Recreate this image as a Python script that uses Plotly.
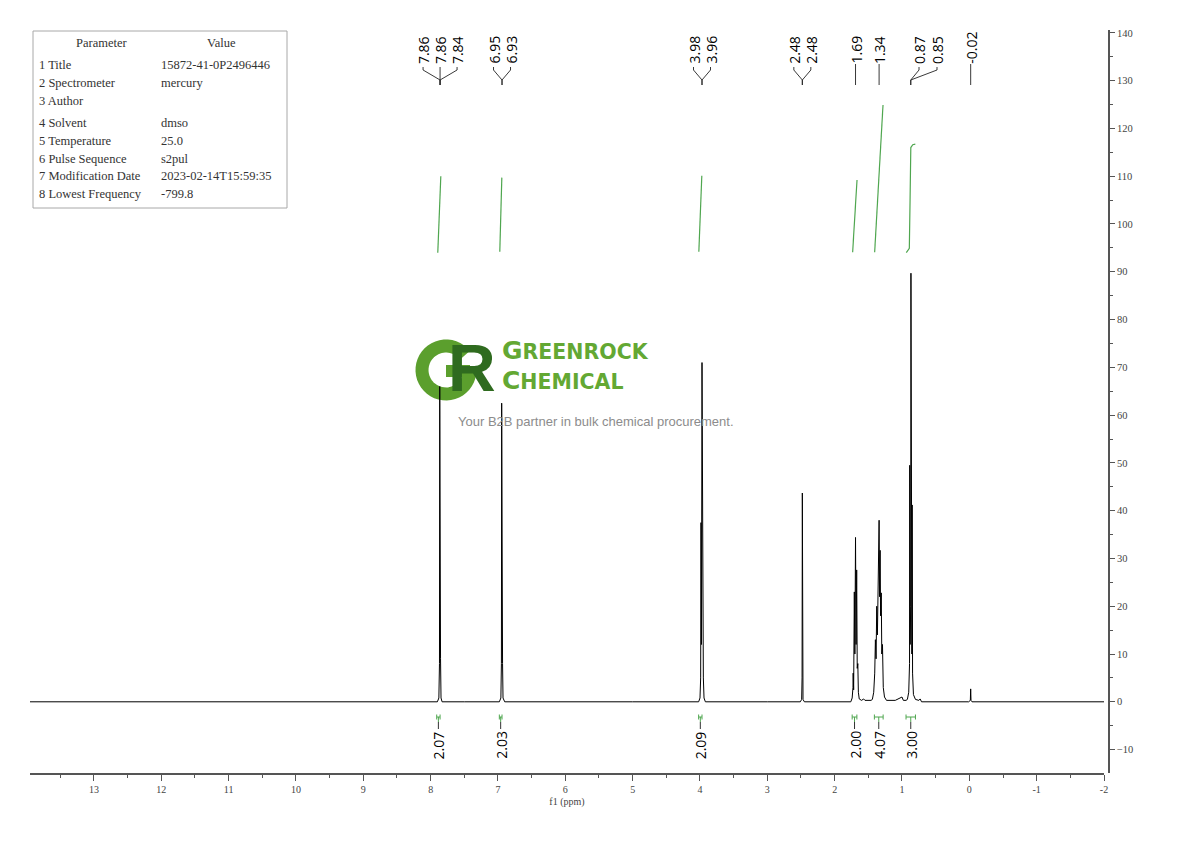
import math
import plotly.graph_objects as go

# ---------------- data ----------------
# 1H NMR spectrum vertices (ppm, intensity)
spec_ppm = [13.95, 8.30, 7.90, 7.878, 7.869, 7.865, 7.861, 7.858, 7.853, 7.846, 7.83, 7.50,
            6.98, 6.957, 6.949, 6.945, 6.941, 6.937, 6.932, 6.925, 6.90, 5.00,
            4.02, 4.000, 3.990, 3.985, 3.978, 3.970, 3.962, 3.955, 3.950, 3.940, 3.92, 3.00,
            2.51, 2.490, 2.484, 2.480, 2.476, 2.470, 2.45, 1.90,
            1.76, 1.740, 1.728, 1.725, 1.718, 1.708, 1.700, 1.690, 1.682, 1.673, 1.665, 1.656, 1.648, 1.635, 1.60,
            1.57, 1.55, 1.46,
            1.44, 1.420, 1.405, 1.395, 1.385, 1.375, 1.365, 1.355, 1.348, 1.340, 1.333, 1.325, 1.318, 1.308, 1.300,
            1.290, 1.278, 1.260, 1.23, 1.10, 1.00, 0.98, 0.94,
            0.92, 0.900, 0.888, 0.885, 0.879, 0.871, 0.867, 0.863, 0.853, 0.849, 0.843, 0.830, 0.80, 0.75, 0.73,
            0.71, 0.30, 0.01, -0.015, -0.020, -0.025, -0.04, -2.10]
spec_int = [0.0, 0.0, 0.0, 0.8, 8.0, 66.0, 20.0, 61.0, 9.0, 0.8, 0.0, 0.0,
            0.0, 0.8, 8.0, 62.5, 20.0, 60.0, 8.0, 0.8, 0.0, 0.0,
            0.0, 0.8, 5.0, 37.5, 12.0, 71.0, 12.0, 35.5, 5.0, 0.8, 0.0, 0.0,
            0.0, 0.5, 5.0, 43.7, 5.0, 0.5, 0.0, 0.0,
            0.0, 0.8, 3.0, 6.0, 2.5, 23.0, 10.0, 34.4, 12.0, 27.6, 7.0, 8.0, 2.0, 0.6, 0.3,
            0.6, 0.3, 0.3,
            0.5, 2.0, 6.0, 13.0, 9.0, 20.0, 14.0, 30.0, 26.0, 38.0, 22.0, 31.7, 18.0, 22.8, 10.0,
            12.0, 3.0, 1.0, 0.3, 0.3, 1.0, 0.3, 0.3,
            0.5, 2.0, 8.0, 49.5, 12.0, 20.0, 89.7, 20.0, 10.0, 41.2, 6.0, 1.5, 0.5, 0.3, 0.6,
            0.0, 0.0, 0.0, 0.3, 2.7, 0.3, 0.0, 0.0]

# integration regions and values
integral_from = [7.91, 6.98, 4.02, 1.74, 1.41, 0.94]
integral_to = [7.86, 6.94, 3.97, 1.67, 1.28, 0.80]
integral_values = ["2.07", "2.03", "2.09", "2.00", "4.07", "3.00"]

# integral curves (ppm, curve height on the intensity scale)
int1_ppm = [7.894, 7.872, 7.849]; int1_val = [94.0, 102.0, 110.0]
int2_ppm = [6.973, 6.958, 6.943]; int2_val = [94.2, 102.0, 109.7]
int3_ppm = [4.017, 3.995, 3.973]; int3_val = [94.2, 102.0, 110.1]
int4_ppm = [1.733, 1.700, 1.668]; int4_val = [94.1, 101.5, 109.2]
int5_ppm = [1.406, 1.370, 1.330, 1.295, 1.282]; int5_val = [94.1, 103.0, 114.0, 123.0, 124.9]
int6_ppm = [0.936, 0.891, 0.880, 0.869, 0.840, 0.802]; int6_val = [94.0, 94.9, 105.0, 116.0, 116.6, 116.7]

# peak labels: peak position and the labels of each group
peak_group_ppm = [7.86, 6.94, 3.97, 2.48, 1.69, 1.34, 0.87, -0.02]
peak_group_labels = [["7.86", "7.86", "7.84"], ["6.95", "6.93"], ["3.98", "3.96"], ["2.48", "2.48"],
                     ["1.69"], ["1.34"], ["0.87", "0.85"], ["-0.02"]]

# parameter table
param_names = ["1 Title", "2 Spectrometer", "3 Author", "4 Solvent", "5 Temperature",
               "6 Pulse Sequence", "7 Modification Date", "8 Lowest Frequency"]
param_values = ["15872-41-0P2496446", "mercury", "", "dmso", "25.0", "s2pul",
                "2023-02-14T15:59:35", "-799.8"]

x_ticks = [13, 12, 11, 10, 9, 8, 7, 6, 5, 4, 3, 2, 1, 0, -1, -2]
x_tick_text = ["13", "12", "11", "10", "9", "8", "7", "6", "5", "4", "3", "2", "1", "0", "-1", "-2"]

# ---------------- layout helpers (all pixel numbers are screen pixels) ----------------
W, H = 1190, 841
PAGE_OFF = 8                       # default body margin of the html page
PL, PR, PT, PB = 30, 1109, 30, 773  # plot area on screen
ML, MT = PL - PAGE_OFF, PT - PAGE_OFF
MR, MB = W - (PR - PAGE_OFF), H - (PB - PAGE_OFF)
X_LEFT, X_RIGHT = 13.95, -2.0      # x range; -2 sits at pixel 1104
XPX1 = 1104
Y_BOT, Y_TOP = -14.9, 140.6


def px_to_ppm(px):
    return X_LEFT - (px - PL) * (X_LEFT - X_RIGHT) / (XPX1 - PL)


def ppm_to_px(p):
    return PL + (X_LEFT - p) * (XPX1 - PL) / (X_LEFT - X_RIGHT)


def py_to_val(py):
    return Y_TOP - (py - PT) * (Y_TOP - Y_BOT) / (PB - PT)


def paper_x(px):
    return (px - PL) / (PR - PL)


def paper_y(py):
    return (PB - py) / (PB - PT)


fig = go.Figure()

fig.add_trace(go.Scatter(x=spec_ppm, y=spec_int, mode="lines",
                         line=dict(color="black", width=1), hoverinfo="skip", showlegend=False))

GREEN = "#4fa64f"
for xs, ys in [(int1_ppm, int1_val), (int2_ppm, int2_val), (int3_ppm, int3_val),
               (int4_ppm, int4_val), (int5_ppm, int5_val), (int6_ppm, int6_val)]:
    fig.add_trace(go.Scatter(x=xs, y=ys, mode="lines", line=dict(color=GREEN, width=1.2),
                             hoverinfo="skip", showlegend=False))

shapes = []
annotations = []
LFONT = dict(family="Open Sans", size=14, color="black")

# integral brackets and values
y_bar = py_to_val(717)
y_tick_hi = py_to_val(714.5)
y_tick_lo = py_to_val(719.5)
y_stem = py_to_val(729)
for a, b, v in zip(integral_from, integral_to, integral_values):
    mid = (a + b) / 2
    line = dict(color=GREEN, width=1)
    shapes.append(dict(type="line", xref="x", yref="y", x0=a, x1=b, y0=y_bar, y1=y_bar, line=line))
    shapes.append(dict(type="line", xref="x", yref="y", x0=a, x1=a, y0=y_tick_hi, y1=y_tick_lo, line=line))
    shapes.append(dict(type="line", xref="x", yref="y", x0=b, x1=b, y0=y_tick_hi, y1=y_tick_lo, line=line))
    shapes.append(dict(type="line", xref="x", yref="y", x0=mid, x1=mid, y0=y_bar, y1=py_to_val(722),
                       line=dict(color=GREEN, width=1)))
    shapes.append(dict(type="line", xref="x", yref="y", x0=mid, x1=mid, y0=py_to_val(722), y1=y_stem,
                       line=dict(color="#333", width=1)))
    annotations.append(dict(x=mid, y=y_stem, xref="x", yref="y", text=v, textangle=-90,
                            showarrow=False, xanchor="center", yanchor="top", font=LFONT))

# peak labels with connectors
LABEL_SPACING_PX = 17
label_px_override = {6: [919, 937]}
y_a, y_b, y_c, y_d = py_to_val(67), py_to_val(70), py_to_val(80), py_to_val(85)
y_lab = py_to_val(66)
for gi, (pk, labels) in enumerate(zip(peak_group_ppm, peak_group_labels)):
    pk_px = ppm_to_px(pk)
    n = len(labels)
    if gi in label_px_override:
        lab_px = label_px_override[gi]
    else:
        lab_px = [pk_px + (i - (n - 1) / 2) * LABEL_SPACING_PX for i in range(n)]
    for lp, t in zip(lab_px, labels):
        lx = px_to_ppm(lp)
        annotations.append(dict(x=lx, y=y_lab, xref="x", yref="y", text=t, textangle=-90,
                                showarrow=False, xanchor="center", yanchor="bottom", font=LFONT))
        if n == 1:
            path = f"M {lx},{py_to_val(64)} L {lx},{y_d}"
        else:
            path = f"M {lx},{y_a} L {lx},{y_b} L {pk},{y_c} L {pk},{y_d}"
        shapes.append(dict(type="path", xref="x", yref="y", path=path,
                           line=dict(color="#222", width=0.9)))

# parameter table
shapes.append(dict(type="rect", xref="paper", yref="paper", x0=paper_x(33), x1=paper_x(287),
                   y0=paper_y(208), y1=paper_y(31), line=dict(color="#a8a8a8", width=1),
                   fillcolor="white", layer="below"))
TFONT = dict(family="Liberation Serif", size=12.5, color="#333")
annotations.append(dict(x=paper_x(102), y=paper_y(43), xref="paper", yref="paper", text="Parameter",
                        showarrow=False, xanchor="center", yanchor="middle", font=TFONT))
annotations.append(dict(x=paper_x(221), y=paper_y(43), xref="paper", yref="paper", text="Value",
                        showarrow=False, xanchor="center", yanchor="middle", font=TFONT))
row_py = [65, 83, 101, 123, 141, 159, 176, 194]
for py, nm, val in zip(row_py, param_names, param_values):
    annotations.append(dict(x=paper_x(37), y=paper_y(py), xref="paper", yref="paper", text=nm,
                            showarrow=False, xanchor="left", yanchor="middle", font=TFONT))
    if val:
        annotations.append(dict(x=paper_x(159), y=paper_y(py), xref="paper", yref="paper", text=val,
                                showarrow=False, xanchor="left", yanchor="middle", font=TFONT))

# watermark logo: ring-shaped "G" drawn as a thick arc with a bar, "R" as text
G_COL, R_COL, T_COL = "#5b9f2d", "#2f6b1f", "#63a833"
gcx, gcy, gr = 446, 370, 24
arc = []
for k in range(0, 41):
    ang = math.radians(38 + k * (360 - 38) / 40)
    arc.append((gcx + gr * math.cos(ang), gcy - gr * math.sin(ang)))
g_path = "M " + " L ".join(f"{paper_x(px):.5f},{paper_y(py):.5f}" for px, py in arc)
shapes.append(dict(type="path", xref="paper", yref="paper", path=g_path,
                   line=dict(color=G_COL, width=13), layer="below"))
shapes.append(dict(type="rect", xref="paper", yref="paper", x0=paper_x(446), x1=paper_x(470),
                   y0=paper_y(377), y1=paper_y(365), line=dict(width=0), fillcolor=G_COL,
                   layer="below"))
annotations.append(dict(x=paper_x(472), y=paper_y(368), xref="paper", yref="paper", text="<b>R</b>",
                        showarrow=False, xanchor="center", yanchor="middle",
                        font=dict(family="Liberation Sans", size=66, color=R_COL)))
annotations.append(dict(x=paper_x(500), y=paper_y(350), xref="paper", yref="paper",
                        text="<b><span style='font-size:25px'>G</span>REENROCK</b>",
                        showarrow=False, xanchor="left", yanchor="middle",
                        font=dict(family="DejaVu Sans", size=20.5, color=T_COL)))
annotations.append(dict(x=paper_x(500), y=paper_y(380), xref="paper", yref="paper",
                        text="<b><span style='font-size:25px'>C</span>HEMICAL</b>",
                        showarrow=False, xanchor="left", yanchor="middle",
                        font=dict(family="DejaVu Sans", size=20.5, color=T_COL)))
annotations.append(dict(x=paper_x(456), y=paper_y(421), xref="paper", yref="paper",
                        text="Your B2B partner in bulk chemical procurement.",
                        showarrow=False, xanchor="left", yanchor="middle",
                        font=dict(family="Liberation Sans", size=13, color="#8c8c8c")))

AX = "#555"
fig.update_layout(
    width=W, height=H, margin=dict(l=ML, r=MR, t=MT, b=MB),
    paper_bgcolor="white", plot_bgcolor="white", showlegend=False,
    shapes=shapes, annotations=annotations,
    xaxis=dict(range=[X_LEFT, X_RIGHT], domain=[0, (XPX1 - PL) / (PR - PL)],
               tickmode="array", tickvals=x_ticks, ticktext=x_tick_text,
               ticks="outside", ticklen=6, tickwidth=1, tickcolor=AX,
               minor=dict(tickmode="linear", tick0=0, dtick=0.5, ticks="outside", ticklen=3,
                          tickcolor=AX, tickwidth=1),
               showline=True, linecolor=AX, linewidth=1.6, showgrid=False, zeroline=False,
               tickfont=dict(family="Liberation Serif", size=10, color="#444"),
               title=dict(text="f1 (ppm)", standoff=4,
                          font=dict(family="Liberation Serif", size=10, color="#444"))),
    yaxis=dict(range=[Y_BOT, Y_TOP], side="right", anchor="free", position=1.0,
               tickmode="linear", tick0=0, dtick=10,
               ticks="outside", ticklen=5, tickwidth=1, tickcolor=AX,
               minor=dict(tickmode="linear", tick0=0, dtick=5, ticks="outside", ticklen=3,
                          tickcolor=AX, tickwidth=1),
               showline=True, linecolor=AX, linewidth=1.6, showgrid=False, zeroline=False,
               tickfont=dict(family="Liberation Serif", size=10.5, color="#444")),
)

fig.write_html("out.html")
